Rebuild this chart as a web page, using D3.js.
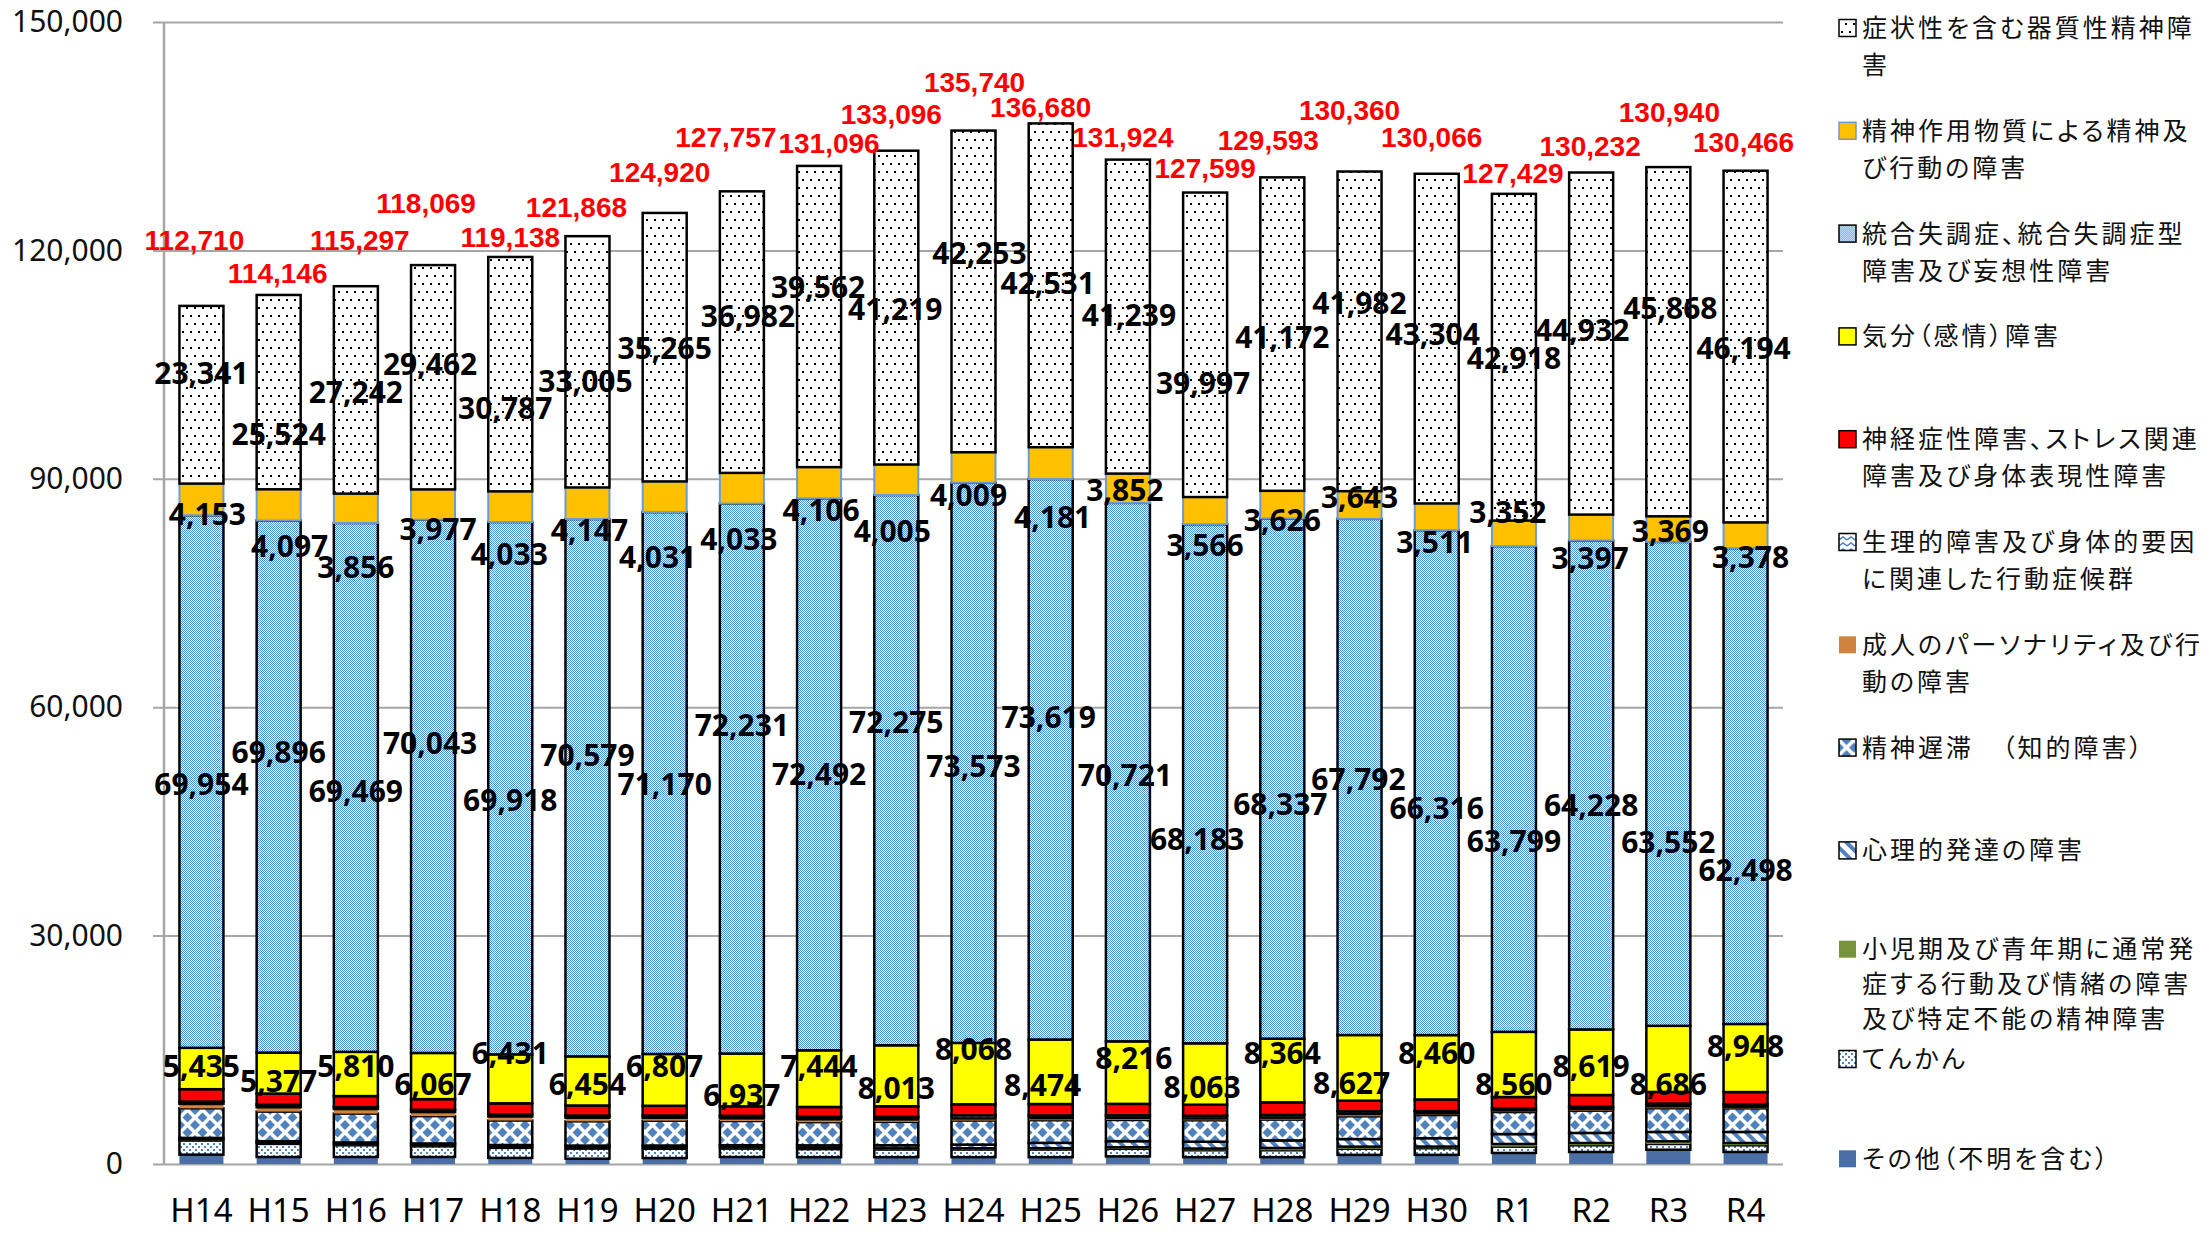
<!DOCTYPE html>
<html>
<head>
<meta charset="utf-8">
<script src="https://cdn.jsdelivr.net/npm/d3@7"></script>
<style>
    html, body { margin: 0; padding: 0; background: #fff; }
    svg { display: block; }
</style>
</head>
<body>
<svg id="chart" width="2208" height="1234"></svg>
<script>
'use strict';

// fiscal years
var years = ['H14', 'H15', 'H16', 'H17', 'H18', 'H19', 'H20', 'H21', 'H22', 'H23', 'H24',
    'H25', 'H26', 'H27', 'H28', 'H29', 'H30', 'R1', 'R2', 'R3', 'R4'];

// series values, stacked bottom to top
var other      = [1230, 920, 920, 920, 800, 700, 780, 920, 900, 900, 900, 900, 1000, 900, 900, 1200, 1200, 1450, 1580, 1880, 1580];
var epilepsy   = [1850, 1720, 1540, 1400, 1320, 1320, 1230, 1100, 1050, 1000, 1000, 1000, 1000, 900, 900, 800, 870, 830, 880, 750, 880];
var childhood  = [150, 150, 150, 130, 120, 120, 120, 150, 150, 160, 170, 180, 200, 230, 300, 280, 220, 350, 300, 350, 300];
var develop    = [200, 200, 220, 250, 260, 280, 300, 300, 350, 400, 480, 700, 800, 900, 1000, 1000, 1100, 1300, 1320, 1230, 1450];
var retard     = [3887, 3892, 3790, 3590, 3209, 3183, 3257, 3174, 3042, 3074, 3157, 2965, 2776, 2810, 2734, 2986, 3035, 2890, 2926, 3115, 3098];
var personal   = [570, 570, 600, 530, 530, 480, 380, 350, 380, 320, 280, 280, 270, 250, 260, 300, 220, 220, 220, 260, 220];
var physio     = [310, 350, 250, 300, 280, 280, 300, 330, 320, 330, 400, 350, 350, 350, 350, 350, 300, 260, 300, 350, 300];
var neurotic   = [1630, 1450, 1450, 1400, 1450, 1320, 1280, 1250, 1300, 1400, 1450, 1500, 1500, 1450, 1650, 1400, 1530, 1500, 1530, 1530, 1620];
var mood       = [5435, 5377, 5810, 6067, 6431, 6454, 6807, 6937, 7444, 8013, 8068, 8474, 8216, 8063, 8364, 8627, 8460, 8560, 8619, 8686, 8948];
var schizo     = [69954, 69896, 69469, 70043, 69918, 70579, 71170, 72231, 72492, 72275, 73573, 73619, 70721, 68183, 68337, 67792, 66316, 63799, 64228, 63552, 62498];
var substance  = [4153, 4097, 3856, 3977, 4033, 4147, 4031, 4033, 4106, 4005, 4009, 4181, 3852, 3566, 3626, 3643, 3511, 3352, 3397, 3369, 3378];
var organic    = [23341, 25524, 27242, 29462, 30787, 33005, 35265, 36982, 39562, 41219, 42253, 42531, 41239, 39997, 41172, 41982, 43304, 42918, 44932, 45868, 46194];

var yTicks = [0, 30000, 60000, 90000, 120000, 150000];

var seriesKeys = ['other', 'epilepsy', 'childhood', 'develop', 'retard', 'personal',
    'physio', 'neurotic', 'mood', 'schizo', 'substance', 'organic'];
var seriesValues = {
    other: other, epilepsy: epilepsy, childhood: childhood, develop: develop,
    retard: retard, personal: personal, physio: physio, neurotic: neurotic,
    mood: mood, schizo: schizo, substance: substance, organic: organic
};

// legend text, top to bottom, with the line breaks of the original
var legendLines = {
    organic:   ['症状性を含む器質性精神障', '害'],
    substance: ['精神作用物質による精神及', 'び行動の障害'],
    schizo:    ['統合失調症、統合失調症型', '障害及び妄想性障害'],
    mood:      ['気分（感情）障害'],
    neurotic:  ['神経症性障害、ストレス関連', '障害及び身体表現性障害'],
    physio:    ['生理的障害及び身体的要因', 'に関連した行動症候群'],
    personal:  ['成人のパーソナリティ及び行', '動の障害'],
    retard:    ['精神遅滞　（知的障害）'],
    develop:   ['心理的発達の障害'],
    childhood: ['小児期及び青年期に通常発', '症する行動及び情緒の障害', '及び特定不能の精神障害'],
    epilepsy:  ['てんかん'],
    other:     ['その他（不明を含む）']
};
// small vertical nudges so the three-line entry does not run into the next one
var legendNudge = { childhood: -4, epilepsy: 3 };
var legendGap = { childhood: 35 };

// hand placed data labels (pixel y of label centre, small x nudges)
var labelPlace = {
    organic: {
        y: [373, 434, 392, 364, 408, 381, 348, 316, 287, 309, 253, 283, 315, 383, 337, 303, 334, 358, 330, 308, 348],
        dx: [0, 0, 0, -3, -5, -2, 0, 6, -1, -1, 6, -3, 1, -2, 0, 0, -4, 0, -9, 2, -2]
    },
    substance: {
        y: [514, 546, 567, 529, 554, 530, 557, 539, 510, 531, 495, 517, 490, 545, 520, 497, 542, 512, 558, 531, 557],
        dx: [6, 11, 0, 5, -1, 2, -7, -3, 2, -4, -5, 2, -3, 0, 0, 0, -2, -6, -1, 2, 5]
    },
    schizo: {
        y: [784, 752, 791, 743, 800, 755, 784, 725, 774, 722, 766, 717, 775, 839, 804, 779, 808, 841, 805, 842, 870],
        dx: [0, 0, 0, -3, 0, 0, 0, 0, 0, 0, 0, -2, -3, -8, -2, -1, 0, 0, 0, 0, 0]
    },
    mood: {
        y: [1066, 1081, 1066, 1084, 1053, 1084, 1066, 1095, 1066, 1088, 1049, 1085, 1058, 1087, 1053, 1083, 1053, 1084, 1066, 1084, 1046],
        dx: [0, 0, 0, 0, 0, 0, 0, 0, 0, 0, 0, -8, 6, -3, 0, -8, 0, 0, 0, 0, 0]
    },
    total: {
        y: [240, 273, 240, 203, 237, 207, 172, 137, 143, 114, 82, 107, 137, 168, 140, 110, 137, 173, 146, 112, 142],
        dx: [-7, -1, 4, -7, 0, -11, -5, -16, 10, -5, 1, -10, -5, 0, -14, -10, -5, -1, -1, 1, -2]
    }
};

var BLUE = '#4F81BD';
var fills = {
    other: '#4A6FA5',
    epilepsy: 'url(#patEpilepsy)',
    childhood: '#77933C',
    develop: 'url(#patDevelop)',
    retard: 'url(#patRetard)',
    personal: '#D0823F',
    physio: 'url(#patPhysio)',
    neurotic: '#FF0000',
    mood: '#FFFF00',
    schizo: 'url(#patSchizo)',
    substance: '#FFC000',
    organic: 'url(#patOrganic)'
};
var strokes = {
    other: 'none', epilepsy: '#000', childhood: 'none', develop: '#000',
    retard: '#000', personal: 'none', physio: '#000', neurotic: '#000',
    mood: '#000', schizo: '#000', substance: '#6C9AD2', organic: '#000'
};

var svg = d3.select('#chart');
var plotLeft = 164, plotRight = 1783, plotTop = 22, plotBottom = 1164;

function addPatterns () {
    var defs = svg.append('defs');
    var p;

    p = defs.append('pattern').attr('id', 'patOrganic')
        .attr('patternUnits', 'userSpaceOnUse').attr('width', 8).attr('height', 16);
    p.append('rect').attr('width', 8).attr('height', 16).attr('fill', '#fff');
    p.append('rect').attr('x', 2).attr('y', 3).attr('width', 2).attr('height', 2).attr('fill', '#000');
    p.append('rect').attr('x', 6).attr('y', 11).attr('width', 2).attr('height', 2).attr('fill', '#000');

    // fine one-pixel checker
    p = defs.append('pattern').attr('id', 'patSchizo')
        .attr('patternUnits', 'userSpaceOnUse').attr('width', 2).attr('height', 2);
    p.append('rect').attr('width', 2).attr('height', 2).attr('fill', '#fff');
    p.append('rect').attr('width', 1).attr('height', 1).attr('fill', '#4A90E2');
    p.append('rect').attr('x', 1).attr('y', 1).attr('width', 1).attr('height', 1).attr('fill', '#4A90E2');

    p = defs.append('pattern').attr('id', 'patRetard')
        .attr('patternUnits', 'userSpaceOnUse').attr('width', 15).attr('height', 15);
    p.append('rect').attr('width', 15).attr('height', 15).attr('fill', '#fff');
    [[7.5, 7.5], [0, 0], [15, 0], [0, 15], [15, 15]].forEach(function (c) {
        p.append('path')
            .attr('d', 'M' + c[0] + ',' + (c[1] - 5) + 'L' + (c[0] + 5) + ',' + c[1] +
                'L' + c[0] + ',' + (c[1] + 5) + 'L' + (c[0] - 5) + ',' + c[1] + 'Z')
            .attr('fill', BLUE);
    });

    p = defs.append('pattern').attr('id', 'patEpilepsy')
        .attr('patternUnits', 'userSpaceOnUse').attr('width', 6).attr('height', 6);
    p.append('rect').attr('width', 6).attr('height', 6).attr('fill', '#fff');
    p.append('rect').attr('width', 2).attr('height', 2).attr('fill', BLUE);
    p.append('rect').attr('x', 3).attr('y', 3).attr('width', 2).attr('height', 2).attr('fill', BLUE);
    p.append('rect').attr('x', 1).attr('y', 1).attr('width', 1).attr('height', 1).attr('fill', BLUE);

    p = defs.append('pattern').attr('id', 'patDevelop')
        .attr('patternUnits', 'userSpaceOnUse').attr('width', 9).attr('height', 9)
        .attr('patternTransform', 'rotate(-45)');
    p.append('rect').attr('width', 9).attr('height', 9).attr('fill', '#fff');
    p.append('rect').attr('width', 4).attr('height', 9).attr('fill', BLUE);

    p = defs.append('pattern').attr('id', 'patPhysio')
        .attr('patternUnits', 'userSpaceOnUse').attr('width', 8).attr('height', 6);
    p.append('rect').attr('width', 8).attr('height', 6).attr('fill', '#fff');
    p.append('path').attr('d', 'M0,4L4,1L8,4').attr('fill', 'none')
        .attr('stroke', BLUE).attr('stroke-width', 1.5);
}

function drawChart () {
    var rows = years.map(function (yr, i) {
        var row = { year: yr };
        seriesKeys.forEach(function (k) { row[k] = seriesValues[k][i]; });
        return row;
    });
    var stacked = d3.stack().keys(seriesKeys)(rows);

    var x = d3.scaleBand().domain(years).range([plotLeft, plotRight])
        .paddingInner(0.43).paddingOuter(0.2);
    var y = d3.scaleLinear().domain([0, 150000]).range([plotBottom, plotTop]);
    var fmt = d3.format(',');

    // gridlines and y labels
    var yAxis = d3.axisLeft(y).tickValues(yTicks).tickFormat(fmt)
        .tickSize(-(plotRight - 153)).tickPadding(30);
    var gy = svg.append('g').attr('transform', 'translate(153,0)').call(yAxis);
    gy.select('.domain').remove();
    gy.selectAll('line').attr('stroke', '#A6A6A6').attr('stroke-width', 2);
    gy.selectAll('text').attr('font-family', 'Noto Sans, sans-serif')
        .attr('font-size', 30).attr('fill', '#111');

    svg.append('line')
        .attr('x1', plotLeft).attr('x2', plotLeft)
        .attr('y1', plotTop).attr('y2', plotBottom)
        .attr('stroke', '#A6A6A6').attr('stroke-width', 2.5);

    // bars
    var gSeries = svg.selectAll('g.series')
        .data(stacked)
        .enter()
        .append('g')
        .attr('class', 'series')
        .attr('fill', function (d) { return fills[d.key]; })
        .attr('stroke', function (d) { return strokes[d.key]; })
        .attr('stroke-width', function (d) { return d.key === 'substance' ? 2 : 2.5; });

    gSeries.selectAll('rect')
        .data(function (d) { return d; })
        .enter()
        .append('rect')
        .attr('x', function (d) { return x(d.data.year); })
        .attr('y', function (d) { return y(d[1]); })
        .attr('width', x.bandwidth())
        .attr('height', function (d) { return y(d[0]) - y(d[1]); });

    // x labels
    var xAxis = d3.axisBottom(x).tickSize(0).tickPadding(35);
    var gx = svg.append('g').attr('transform', 'translate(0,' + plotBottom + ')').call(xAxis);
    gx.select('.domain').remove();
    gx.selectAll('text').attr('font-family', 'Noto Sans, sans-serif')
        .attr('font-size', 33).attr('fill', '#000');

    // segment value labels
    ['organic', 'substance', 'schizo', 'mood'].forEach(function (k) {
        var place = labelPlace[k];
        svg.append('g').selectAll('text')
            .data(seriesValues[k])
            .enter()
            .append('text')
            .attr('x', function (d, i) { return x(years[i]) + x.bandwidth() / 2 + place.dx[i]; })
            .attr('y', function (d, i) { return place.y[i]; })
            .attr('dy', '0.36em')
            .attr('text-anchor', 'middle')
            .attr('font-family', 'Noto Sans, sans-serif')
            .attr('font-weight', 'bold')
            .attr('font-size', 30)
            .attr('fill', '#000')
            .text(fmt);
    });

    // totals in red
    var totals = rows.map(function (r) {
        return d3.sum(seriesKeys, function (k) { return r[k]; });
    });
    svg.append('g').selectAll('text')
        .data(totals)
        .enter()
        .append('text')
        .attr('x', function (d, i) { return x(years[i]) + x.bandwidth() / 2 + labelPlace.total.dx[i]; })
        .attr('y', function (d, i) { return labelPlace.total.y[i]; })
        .attr('dy', '0.36em')
        .attr('text-anchor', 'middle')
        .attr('font-family', 'Liberation Sans, Arial, sans-serif')
        .attr('font-weight', 'bold')
        .attr('font-size', 28)
        .attr('fill', '#FF0000')
        .text(fmt);
}

function drawLegend () {
    var order = seriesKeys.slice().reverse();
    var gLegend = svg.append('g').attr('class', 'legend');
    var items = gLegend.selectAll('g')
        .data(order)
        .enter()
        .append('g')
        .attr('transform', function (d, i) {
            return 'translate(1839,' + (28 + i * 102.8 + (legendNudge[d] || 0)) + ')';
        });

    items.append('rect')
        .attr('x', 0).attr('y', -8.5)
        .attr('width', 17).attr('height', 17)
        .attr('fill', function (d) { return fills[d]; })
        .attr('stroke', function (d) { return strokes[d]; })
        .attr('stroke-width', 1.5);

    items.each(function (d) {
        var gap = legendGap[d] || 37;
        var t = d3.select(this).append('text')
            .attr('font-family', 'Noto Sans CJK JP, sans-serif')
            .attr('font-size', 25)
            .attr('letter-spacing', 3)
            .style('font-feature-settings', '"palt" 1')
            .attr('fill', '#111');
        legendLines[d].forEach(function (line, j) {
            t.append('tspan')
                .attr('x', 23)
                .attr('y', j * gap)
                .attr('dy', '0.36em')
                .text(line);
        });
    });
}

addPatterns();
drawChart();
drawLegend();
</script>
</body>
</html>
